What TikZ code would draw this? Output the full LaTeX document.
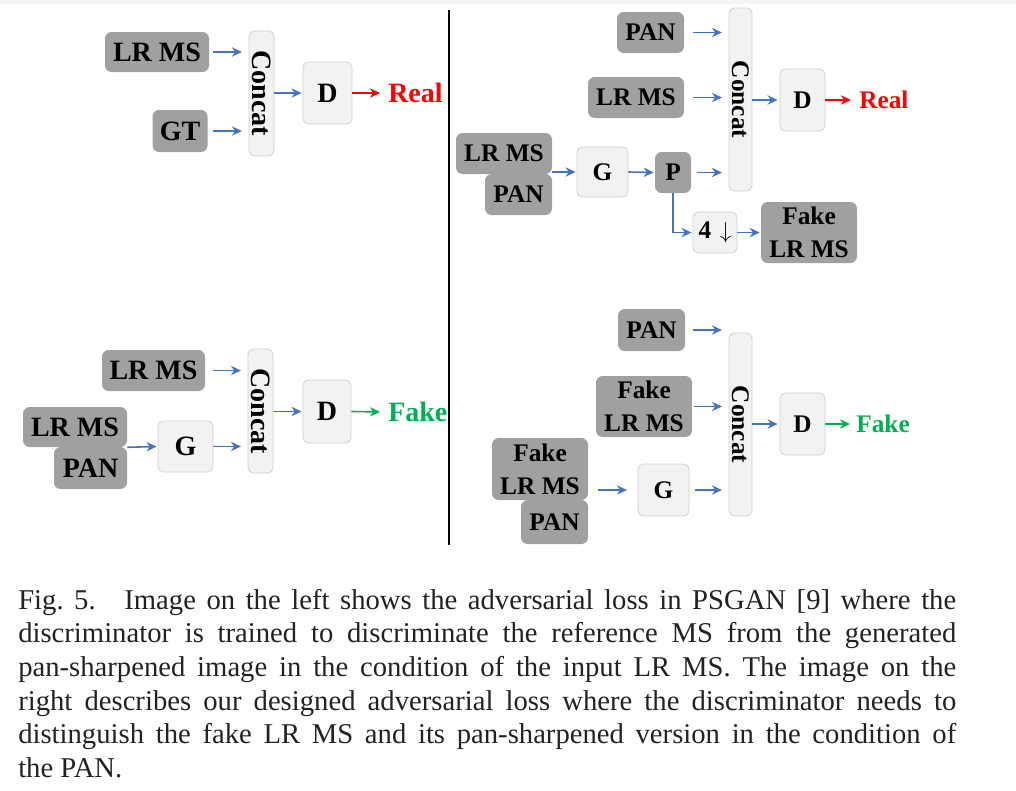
\documentclass[tikz,border=0pt]{standalone}
\usepackage{fontspec}
\usepackage{graphicx}
\setmainfont{Liberation Serif}
\usetikzlibrary{arrows.meta}
\definecolor{gboxc}{HTML}{A0A0A0}
\definecolor{lboxc}{HTML}{F2F2F2}
\definecolor{llinec}{HTML}{D0D0D0}
\definecolor{ablue}{HTML}{4472C4}
\definecolor{ared}{HTML}{FF0000}
\definecolor{agreen}{HTML}{00B050}
\definecolor{captxt}{HTML}{222222}
\definecolor{topband}{HTML}{F3F5F7}
\begin{document}
\begin{tikzpicture}[x=0.75pt,y=-0.75pt,
 wh/.style 2 args={minimum width=#1*0.75pt, minimum height=#2*0.75pt},
 darkbox/.style={fill=gboxc, rounded corners=5pt, inner sep=0pt, align=center},
 lightbox/.style={fill=lboxc, draw=llinec, line width=0.6pt, rounded corners=4pt, inner sep=0pt, align=center},
 fl/.style={font=\fontsize{21}{25}\selectfont\bfseries},
 fr/.style={font=\fontsize{19}{24.75}\selectfont\bfseries},
 arr/.style={draw=ablue, line width=1.2pt, -{Stealth[length=7.5pt,width=7pt]}},
 rarr/.style={draw=ared, line width=1.2pt, -{Stealth[length=7.5pt,width=7pt]}},
 garr/.style={draw=agreen, line width=1.2pt, -{Stealth[length=7.5pt,width=7pt]}},
 lbl/.style={anchor=west, inner sep=0pt},
]
\useasboundingbox (0,0) rectangle (1016,790);
\fill[topband] (0,0) rectangle (1016,4);

% ---------- left top ----------
\node[darkbox,fl,wh={104}{40}] (a1) at (157,52) {LR MS};
\node[darkbox,fl,wh={55}{42}] (a2) at (180,131) {GT};
\node[lightbox,fl,wh={25}{125}] (ac) at (261.5,93.5) {\rotatebox{-90}{Concat}};
\node[lightbox,fl,wh={49}{62}] (ad) at (327.5,93) {D};
\node[lbl,fl,text=ared] (ar) at (388,93) {Real};
\draw[arr,shorten <=3pt,shorten >=5pt] (a1.east) -- (a1.east -| ac.west);
\draw[arr,shorten <=4pt,shorten >=5pt] (a2.east) -- (a2.east -| ac.west);
\draw[arr,shorten >=0.8pt] (ac.east |- ad.west) -- (ad.west);
\draw[rarr,shorten >=6pt] (ad.east) -- (ar.west);

% ---------- left bottom ----------
\node[darkbox,fl,wh={103}{41}] (b1) at (153.5,370.5) {LR MS};
\node[darkbox,fl,wh={104}{40}] (b2) at (75,427) {LR MS};
\node[darkbox,fl,wh={73}{42}] (b3) at (90.5,468) {PAN};
\node[lightbox,fl,wh={55}{51}] (bg) at (185.5,446.5) {G};
\node[lightbox,fl,wh={25}{124}] (bc) at (260.5,411) {\rotatebox{-90}{Concat}};
\node[lightbox,fl,wh={48}{63}] (bd) at (327,411.5) {D};
\node[lbl,fl,text=agreen] (bf) at (388,412) {Fake};
\draw[arr,shorten <=6pt,shorten >=5pt] (b1.east) -- (b1.east -| bc.west);
\draw[arr,shorten >=0.8pt] (b2.south east) -- (bg.west);
\draw[arr,shorten <=0pt,shorten >=5pt] (bg.east) -- (bg.east -| bc.west);
\draw[arr,shorten >=0.8pt] (bc.east |- bd.west) -- (bd.west);
\draw[garr,shorten >=6pt] (bd.east) -- (bf.west);

% ---------- divider ----------
\draw[line width=1.3pt] (449,10) -- (449,545);

% ---------- right top ----------
\node[darkbox,fr,wh={67}{41}] (c1) at (650.5,32.5) {PAN};
\node[darkbox,fr,wh={96}{41}] (c2) at (636,97.5) {LR MS};
\node[darkbox,fr,wh={96}{41}] (c3) at (504,153.5) {LR MS};
\node[darkbox,fr,wh={67}{41}] (c4) at (518.5,194.5) {PAN};
\node[lightbox,fr,wh={51}{50}] (cg) at (602.5,172) {G};
\node[darkbox,fr,wh={36}{41}] (cp) at (673,172.5) {P};
\node[lightbox,fr,wh={23}{183}] (cc) at (740.5,99.5) {\rotatebox{-90}{Concat}};
\node[lightbox,fr,wh={45}{62}] (cd) at (802.5,100) {D};
\node[lbl,fr,text=ared] (cr) at (859,100) {Real};
\node[lightbox,fr,wh={44}{41}] (c5) at (715,232.5) {4\,\,$\downarrow$};
\node[darkbox,fr,wh={96}{61}] (c6) at (809,232.5) {Fake\\LR MS};
\draw[arr,shorten <=6.5pt,shorten >=5pt] (c1.east) -- (c1.east -| cc.west);
\draw[arr,shorten <=6.5pt,shorten >=5pt] (c2.east) -- (c2.east -| cc.west);
\draw[arr,shorten >=0.8pt] (cg.west -| c3.east) -- (cg.west);
\draw[arr,shorten >=0.8pt] (cg.east) -- (cp.west);
\draw[arr,shorten <=4pt,shorten >=5pt] (cp.east) -- (cp.east -| cc.west);
\draw[arr,shorten >=0.8pt] (cp.south) |- (c5.west);
\draw[arr,shorten >=0.8pt] (c5.east) -- (c6.west);
\draw[arr,shorten >=1.5pt] (cc.east |- cd.west) -- (cd.west);
\draw[rarr,shorten >=6pt] (cd.east) -- (cr.west);

% ---------- right bottom ----------
\node[darkbox,fr,wh={67}{42}] (d1) at (651.5,330) {PAN};
\node[darkbox,fr,wh={96}{61}] (d2) at (644,406.5) {Fake\\LR MS};
\node[darkbox,fr,wh={96}{62}] (d3) at (540,469) {Fake\\LR MS};
\node[darkbox,fr,wh={67}{44}] (d4) at (554.5,522) {PAN};
\node[lightbox,fr,wh={51}{52}] (dg) at (663.5,490) {G};
\node[lightbox,fr,wh={23}{183}] (dc) at (740.5,424.5) {\rotatebox{-90}{Concat}};
\node[lightbox,fr,wh={45}{62}] (dd) at (802.5,424) {D};
\node[lbl,fr,text=agreen] (df) at (856,424) {Fake};
\draw[arr,shorten <=6pt,shorten >=5pt] (d1.east) -- (d1.east -| dc.west);
\draw[arr,shorten <=1pt,shorten >=5pt] (d2.east) -- (d2.east -| dc.west);
\draw[arr,shorten <=7.5pt,shorten >=8pt] (dg.west -| d3.east) -- (dg.west);
\draw[arr,shorten <=4.5pt,shorten >=5pt] (dg.east) -- (dg.east -| dc.west);
\draw[arr,shorten >=1.5pt] (dc.east |- dd.west) -- (dd.west);
\draw[garr,shorten >=4.5pt] (dd.east) -- (df.west);

% ---------- caption ----------
\node[anchor=base west, inner sep=0pt, text=captxt] (cap) at (18,609) {\parbox[t]{703.5pt}{\fontsize{21.5}{25.3}\selectfont\hyphenpenalty=10000 Fig.~5.\quad Image on the left shows the adversarial loss in PSGAN [9] where the\linebreak discriminator is trained to discriminate the reference MS from the generated\linebreak pan-sharpened image in the condition of the input LR MS. The image on the\linebreak right describes our designed adversarial loss where the discriminator needs to\linebreak distinguish the fake LR MS and its pan-sharpened version in the condition of\linebreak the PAN.}};
\end{tikzpicture}
\end{document}
